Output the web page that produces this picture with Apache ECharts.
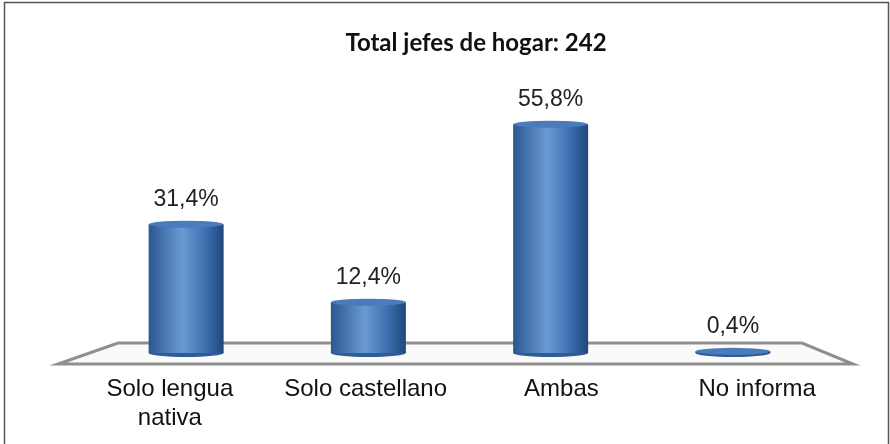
<!DOCTYPE html>
<html>
<head>
<meta charset="utf-8">
<script src="https://cdn.jsdelivr.net/npm/echarts@6/dist/echarts.min.js"></script>
<style>
  html, body { margin: 0; padding: 0; background: #fff; }
  #chart { width: 890px; height: 444px; }
</style>
</head>
<body>
<div id="chart"></div>
<script>
const categories = ['Solo lengua\nnativa', 'Solo castellano', 'Ambas', 'No informa'];
const shares = [31.4, 12.4, 55.8, 0.4];
const titleText = 'Total jefes de hogar: 242';

const chart = echarts.init(document.getElementById('chart'));

const cylinderFill = new echarts.graphic.LinearGradient(0, 0, 1, 0, [
    { offset: 0, color: '#2b5791' },
    { offset: 0.45, color: '#6b9ad3' },
    { offset: 0.75, color: '#3f70b0' },
    { offset: 1, color: '#1f477d' }
]);

const option = {
    animation: false,
    title: {
        text: titleText,
        left: 471,
        textAlign: 'center',
        top: 26,
        textStyle: { fontFamily: 'Lato', fontWeight: 'bold', fontSize: 24, color: '#111' }
    },
    graphic: [
        {
            type: 'rect',
            shape: { x: 4.5, y: 2.5, width: 884, height: 450 },
            style: { fill: null, stroke: '#555', lineWidth: 1.5 },
            z: 0
        },
        {
            // floor plane under the cylinders
            type: 'polygon',
            shape: { points: [[118, 343], [802, 343], [853, 364], [58, 364]] },
            style: { fill: '#fafafa', stroke: '#8f8f8f', lineWidth: 3 },
            z: 0
        }
    ],
    // grid 0 holds the cylinders, grid 1 only the (perspective-spread) category labels
    grid: [
        { left: 95, right: 66, top: 66, bottom: 91 },
        { left: 72, right: 35, top: 66, bottom: 91 }
    ],
    xAxis: [
        {
            type: 'category',
            gridIndex: 0,
            data: categories,
            axisLine: { show: false },
            axisTick: { show: false },
            axisLabel: { show: false }
        },
        {
            type: 'category',
            gridIndex: 1,
            data: categories,
            axisLine: { show: false },
            axisTick: { show: false },
            axisLabel: {
                interval: 0,
                margin: 22,
                fontFamily: 'Liberation Sans',
                fontSize: 24,
                lineHeight: 29,
                color: '#111'
            }
        }
    ],
    yAxis: [
        { type: 'value', gridIndex: 0, min: 0, max: 70, show: false },
        { type: 'value', gridIndex: 1, min: 0, max: 70, show: false }
    ],
    series: [
        {
            type: 'bar',
            data: shares,
            barWidth: 75,
            barGap: '-100%',
            itemStyle: { color: cylinderFill },
            z: 3,
            label: {
                show: true,
                position: 'top',
                distance: 13,
                formatter: (p) => p.value.toFixed(1).replace('.', ',') + '%',
                fontFamily: 'Liberation Sans',
                fontSize: 23,
                color: '#222'
            }
        },
        {
            type: 'pictorialBar',
            data: shares,
            symbol: 'circle',
            symbolSize: [75, 8],
            symbolPosition: 'start',
            symbolOffset: [0, '50%'],
            barGap: '-100%',
            itemStyle: { color: '#2d5c98' },
            z: 2
        },
        {
            type: 'pictorialBar',
            data: shares,
            symbol: 'circle',
            symbolSize: [75, 7],
            symbolPosition: 'end',
            symbolOffset: [0, '-50%'],
            barGap: '-100%',
            itemStyle: { color: '#4a7cbd' },
            z: 4
        }
    ]
};

chart.setOption(option);
</script>
</body>
</html>
